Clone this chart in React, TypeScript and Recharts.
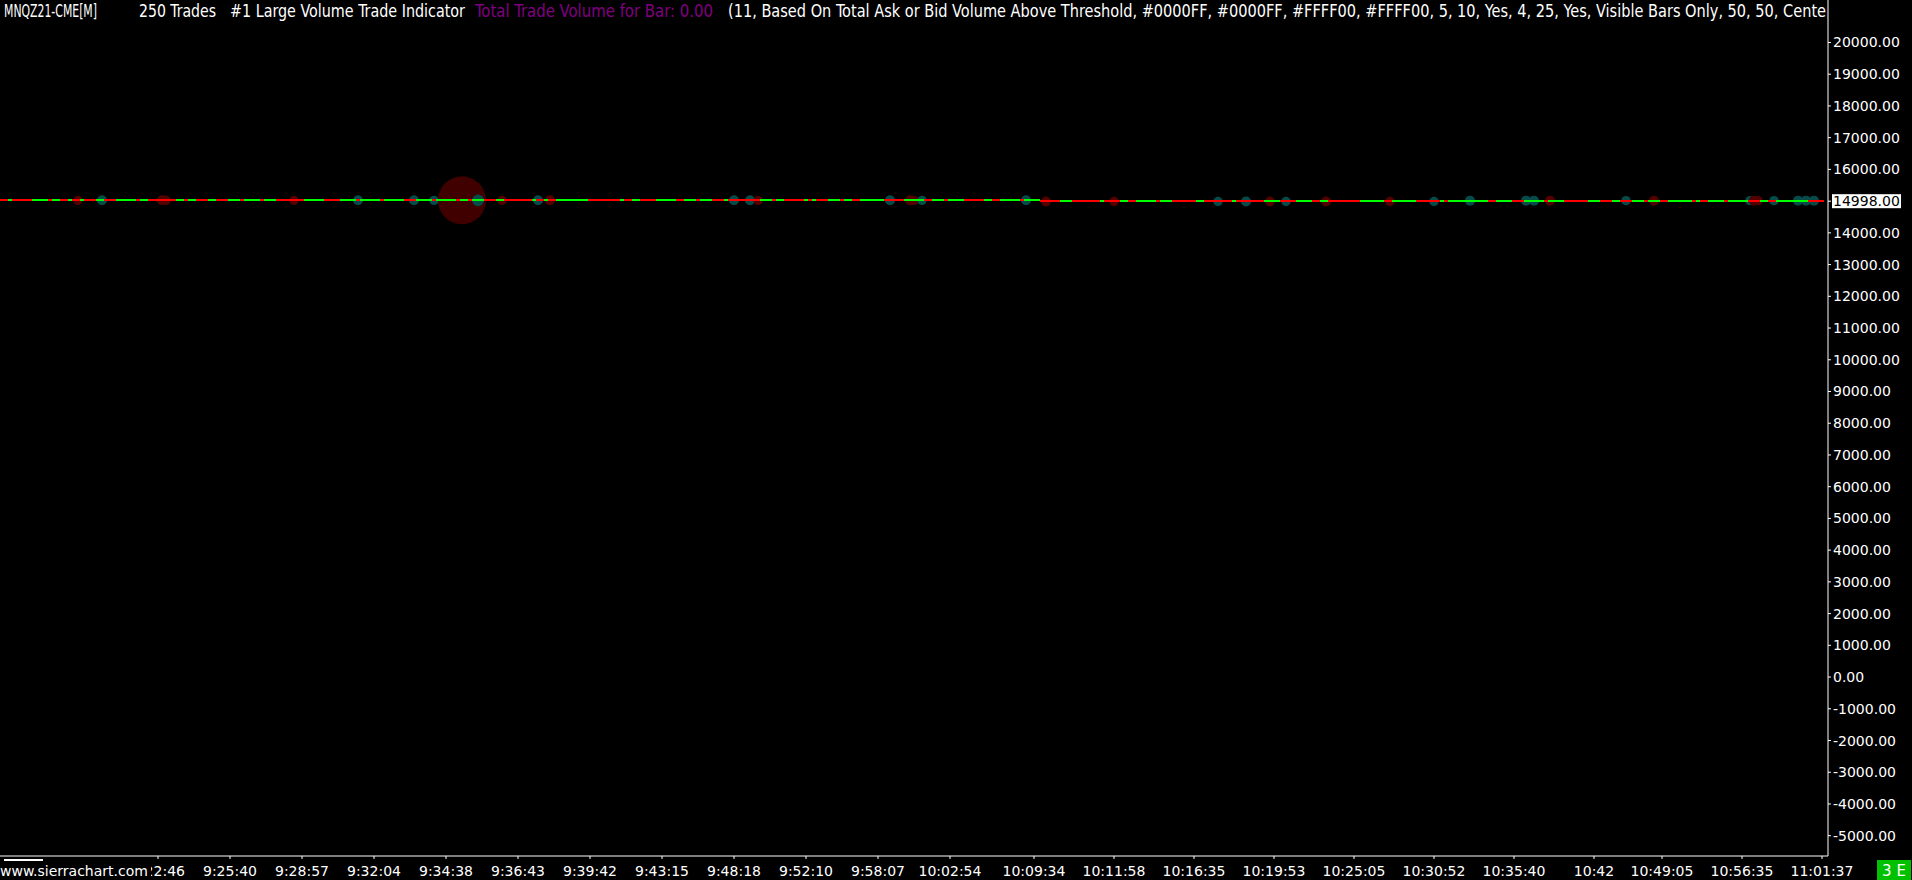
import React from "react";
import { ComposedChart, Scatter, XAxis, YAxis } from "recharts";

const CHART_W = 1912;
const CHART_H = 880;

// bar colours (g = up bar, r = down bar)
const candleRuns = [
  "r2 g1 r5 g4 r1 g2 r2 g1 r2 g1 r3 g2 r3 g5 r1 g2 r7 g2 r1 g2 r3 g2 r3 g3 r1 g4 r1 g3",
  "r7 g5 r4 g4 r1 g5 r1 g5 r3 g4 r1 g5 r1 g2 r1 g3 r3 g2 r7 g1 r2 g1 r2 g8 r8 g1 r2 g2",
  "r4 g5 r2 g3 r1 g3 r3 g1 r8 g3 r1 g2 r5 g1 r1 g1 r3 g3 r1 g2 r2 g6 r5 g5 r2 g3 r1 g4",
  "r5 g2 r2 g5 r1 g4 r5 g3 r7 g1 r4 g2 r2 g5 r1 g3 r6 g2 r7 g1 r7 g4",
  "r4 g4 r2 g2 r8 g6 r2 g6 r6 g1 r1 g10 r2 g4 r3 g5 r1 g4 r6 g3 r3 g2 r3 g3 r1 g3 r2 g6",
  "r1 g1 r2 g4 r1 g5 r3 g2 r2 g8 r4",
];

// price level of the bars, by stretch of the chart
const levelFromBar = [0, 260, 366];
const levelPrice = [15025, 14990, 15015];
const lastPrice = 14998;

// large volume trade markers: bar index, side (a = at ask, b = at bid), volume
const markerBars = [
  19, 25, 40, 41, 73, 89, 103, 108, 115, 119, 125, 134, 137, 183, 187, 189, 222,
  227, 228, 230, 256, 261, 278, 304, 311, 317, 321, 331, 347, 358, 367, 381, 383,
  387, 406, 413, 437, 438, 439, 443, 449, 451, 453,
];
const markerSides = "babbbaaabababaababbaabbaababbaaaabababbaaa".split("").concat(["a"]);
const markerVolumes = [
  22, 25, 25, 22, 22, 25, 25, 22, 576, 34, 22, 25, 25, 25, 25, 22, 25,
  25, 22, 22, 25, 25, 22, 22, 25, 25, 22, 25, 22, 22, 25, 25, 25,
  25, 22, 25, 22, 25, 22, 22, 25, 25, 25,
];

// time axis
const timeTickBars = [
  39, 57, 75, 93, 111, 129, 147, 165, 183, 201, 219, 237, 258, 278, 298, 318,
  338, 358, 378, 398, 415, 435, 455,
];
const timeTickLabels = [
  "9:22:46", "9:25:40", "9:28:57", "9:32:04", "9:34:38", "9:36:43", "9:39:42",
  "9:43:15", "9:48:18", "9:52:10", "9:58:07", "10:02:54", "10:09:34", "10:11:58",
  "10:16:35", "10:19:53", "10:25:05", "10:30:52", "10:35:40", "10:42", "10:49:05",
  "10:56:35", "11:01:37",
];

const priceTicks = [
  20000, 19000, 18000, 17000, 16000, 14998, 14000, 13000, 12000, 11000, 10000,
  9000, 8000, 7000, 6000, 5000, 4000, 3000, 2000, 1000, 0, -1000, -2000, -3000,
  -4000, -5000,
];

const AXIS_FONT = "'DejaVu Sans', Verdana, sans-serif";
const HEADER_FONT =
  "'Liberation Sans Narrow', 'DejaVu Sans Condensed', 'Arial Narrow', 'Liberation Sans', sans-serif";

function priceAt(bar: number) {
  let p = levelPrice[0];
  levelFromBar.forEach((b, i) => {
    if (bar >= b) p = levelPrice[i];
  });
  return p;
}

function buildCandles() {
  const out: { x: number; y: number; up: boolean }[] = [];
  let bar = 0;
  candleRuns
    .join(" ")
    .split(/\s+/)
    .filter(Boolean)
    .forEach((tok) => {
      const up = tok[0] === "g";
      const n = parseInt(tok.slice(1), 10);
      for (let k = 0; k < n; k++) {
        out.push({ x: bar + 0.5, y: priceAt(bar), up });
        bar++;
      }
    });
  return out;
}

const candles = buildCandles();
const markers = markerBars.map((b, i) => ({
  x: b + 0.5,
  y: priceAt(b),
  ask: markerSides[i] === "a",
  vol: markerVolumes[i],
}));

function CandleShape(props: any) {
  const { cx, cy, payload } = props;
  return (
    <rect
      x={cx - 2}
      y={Math.round(cy - 1)}
      width={4}
      height={2}
      fill={payload.up ? "#00ff00" : "#ff0000"}
    />
  );
}

function MarkerShape(props: any) {
  const { cx, cy, payload } = props;
  const big = payload.vol > 100;
  const fill = payload.ask ? "#064a4a" : big ? "#400000" : "#520000";
  return <circle cx={cx} cy={cy} r={Math.sqrt(payload.vol)} fill={fill} />;
}

function TimeTick(props: any) {
  const { x, y, payload } = props;
  const idx = timeTickBars.indexOf(payload.value - 0.5);
  return (
    <text
      x={x}
      y={y}
      dy={10}
      textAnchor="middle"
      fill="#ffffff"
      fontFamily={AXIS_FONT}
      fontSize={14}
    >
      {timeTickLabels[idx]}
    </text>
  );
}

function PriceTick(props: any) {
  const { x, y, payload } = props;
  const v = payload.value as number;
  const label = v.toFixed(2);
  if (v === lastPrice) {
    return (
      <g>
        <rect x={x - 1} y={y - 7} width={69} height={14} fill="#ffffff" />
        <text x={x} y={y} dy={5} fill="#000000" fontFamily={AXIS_FONT} fontSize={14}>
          {label}
        </text>
      </g>
    );
  }
  return (
    <text x={x} y={y} dy={5} fill="#ffffff" fontFamily={AXIS_FONT} fontSize={14}>
      {label}
    </text>
  );
}

export default function App() {
  return (
    <div
      style={{
        position: "absolute",
        left: 0,
        top: 0,
        width: CHART_W,
        height: CHART_H,
        background: "#000",
        overflow: "hidden",
      }}
    >
      <ComposedChart
        width={CHART_W}
        height={CHART_H}
        margin={{ top: 0, right: 0, bottom: 0, left: 0 }}
      >
        <XAxis
          type="number"
          dataKey="x"
          domain={[0, 457]}
          allowDataOverflow
          ticks={timeTickBars.map((b) => b + 0.5)}
          interval={0}
          height={24}
          tickSize={3}
          tickMargin={7}
          axisLine={{ stroke: "#ffffff" }}
          tickLine={{ stroke: "#ffffff" }}
          tick={<TimeTick />}
        />
        <YAxis
          type="number"
          dataKey="y"
          orientation="right"
          domain={[-5640, 21339]}
          allowDataOverflow
          ticks={priceTicks}
          interval={0}
          width={84}
          tickSize={3}
          tickMargin={2}
          axisLine={{ stroke: "#ffffff" }}
          tickLine={{ stroke: "#ffffff" }}
          tick={<PriceTick />}
        />
        <Scatter data={markers} shape={<MarkerShape />} isAnimationActive={false} />
        <Scatter data={candles} shape={<CandleShape />} isAnimationActive={false} />
      </ComposedChart>

      {/* study header, footer and status box */}
      <svg
        width={CHART_W}
        height={CHART_H}
        style={{ position: "absolute", left: 0, top: 0, pointerEvents: "none" }}
      >
        <defs>
          <clipPath id="hdr">
            <rect x={0} y={0} width={1827} height={30} />
          </clipPath>
        </defs>
        <g clipPath="url(#hdr)" fontFamily={HEADER_FONT} fontSize={18} style={{ whiteSpace: "pre" }}>
          <text x={4} y={17} fill="#ffffff" textLength={93} lengthAdjust="spacingAndGlyphs">
            MNQZ21-CME[M]
          </text>
          <text x={139} y={17} fill="#ffffff" textLength={77} lengthAdjust="spacingAndGlyphs">
            250 Trades
          </text>
          <text x={230} y={17} fill="#ffffff" textLength={235} lengthAdjust="spacingAndGlyphs">
            #1 Large Volume Trade Indicator
          </text>
          <text x={475} y={17} fill="#800080" textLength={238} lengthAdjust="spacingAndGlyphs">
            Total Trade Volume for Bar: 0.00
          </text>
          <text x={728} y={17} fill="#ffffff" textLength={1104} lengthAdjust="spacingAndGlyphs">
            (11, Based On Total Ask or Bid Volume Above Threshold, #0000FF, #0000FF, #FFFF00, #FFFF00, 5, 10, Yes, 4, 25, Yes, Visible Bars Only, 50, 50, Center
          </text>
        </g>

        <rect x={0} y={858} width={151} height={22} fill="#000000" />
        <rect x={4} y={859} width={39} height={2} fill="#ffffff" />
        <text x={0} y={876} fill="#ffffff" fontFamily={AXIS_FONT} fontSize={14}>
          www.sierrachart.com
        </text>

        <rect x={1877} y={860} width={34} height={20} fill="#00c000" />
        <text x={1894} y={876} textAnchor="middle" fill="#ffffff" fontFamily={AXIS_FONT} fontSize={15}>
          3 E
        </text>
      </svg>
    </div>
  );
}
